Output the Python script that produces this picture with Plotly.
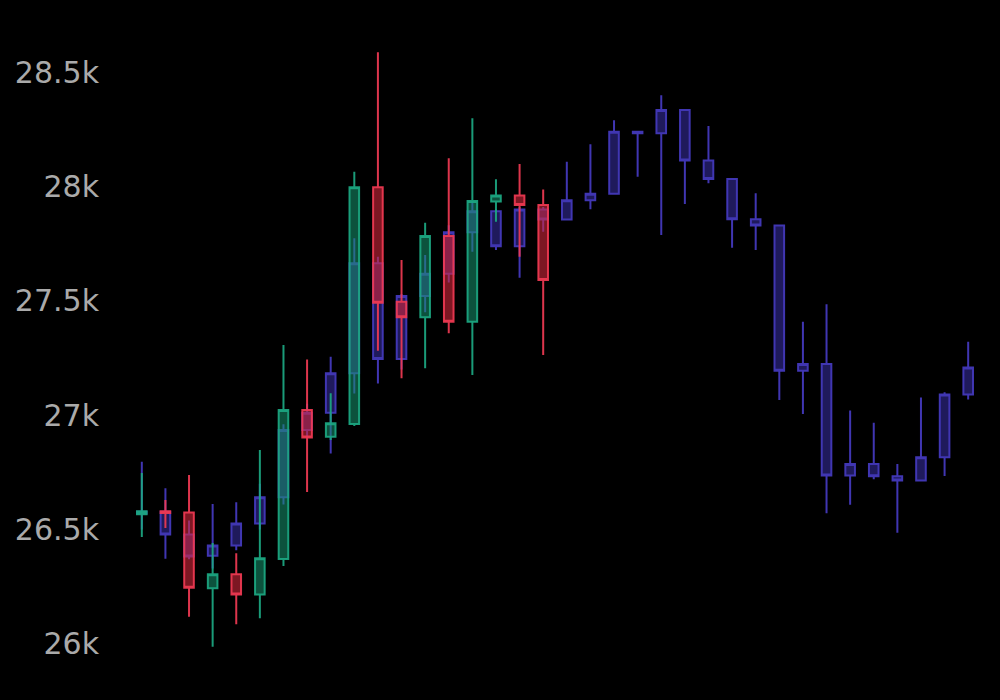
import plotly.graph_objects as go

# x positions (trading sessions)
idx_a = list(range(36))
idx_b = list(range(18))

# Series A (blue/purple, long)
a_open = [26570, 26578, 26478, 26386, 26430, 26527, 26641, 26935, 27011, 27183,
          27664, 27246, 27521, 27618, 27800, 27892, 27739, 27899, 27856, 27940,
          27968, 28239, 28232, 28334, 28113, 28033, 27857, 27829, 27194, 27224,
          26736, 26787, 26733, 26714, 26816, 27090]
a_high = [26797, 26681, 26540, 26612, 26619, 26700, 26960, 27050, 27256, 27773,
          27693, 27530, 27700, 27830, 27936, 27900, 27910, 27910, 28108, 28184,
          28289, 28242, 28399, 28334, 28264, 28035, 27970, 27831, 27409, 27485,
          27020, 26967, 26787, 27077, 27100, 27321]
a_low = [26500, 26373, 26370, 26330, 26410, 26500, 26610, 26900, 26833, 27095,
         27139, 27200, 27450, 27580, 27715, 27722, 27601, 27802, 27856, 27900,
         27967, 28042, 27788, 27923, 28014, 27732, 27722, 27066, 27005, 26571,
         26608, 26720, 26486, 26714, 26734, 27069]
a_close = [26578, 26478, 26382, 26430, 26527, 26641, 26935, 27011, 27183, 27664,
           27246, 27521, 27618, 27800, 27892, 27739, 27899, 27856, 27940, 27968,
           28239, 28232, 28334, 28113, 28033, 27857, 27829, 27194, 27224, 26736,
           26787, 26733, 26714, 26816, 27090, 27209]

# Series B (green/red, short)
b_open = [26567, 26580, 26575, 26243, 26305, 26216, 26371, 27023, 26906, 26961,
          27996, 27496, 27428, 27783, 27409, 27934, 27960, 27919]
b_high = [26747, 26629, 26739, 26441, 26396, 26848, 27307, 27244, 27096, 28064,
          28587, 27678, 27841, 28123, 28298, 28031, 28098, 27987]
b_low = [26468, 26507, 26119, 25988, 26086, 26112, 26341, 26664, 26892, 26953,
         27282, 27161, 27205, 27358, 27176, 27846, 27693, 27263]
b_close = [26580, 26572, 26246, 26305, 26216, 26375, 27023, 26903, 26965, 27996,
           27492, 27428, 27783, 27409, 27936, 27960, 27919, 27591]

y_ticks = [26000, 26500, 27000, 27500, 28000, 28500]
y_tick_text = ["26k", "26.5k", "27k", "27.5k", "28k", "28.5k"]

blue_line = "rgb(64,54,178)"
blue_fill = "rgb(31,26,92)"

fig = go.Figure()
fig.add_trace(go.Candlestick(
    x=idx_a, open=a_open, high=a_high, low=a_low, close=a_close,
    increasing=dict(line=dict(color=blue_line, width=2), fillcolor=blue_fill),
    decreasing=dict(line=dict(color=blue_line, width=2), fillcolor=blue_fill),
    showlegend=False,
))
fig.add_trace(go.Candlestick(
    x=idx_b, open=b_open, high=b_high, low=b_low, close=b_close,
    increasing=dict(line=dict(color="rgba(28,168,130,0.92)", width=2),
                    fillcolor="rgba(22,150,112,0.55)"),
    decreasing=dict(line=dict(color="rgba(240,58,82,0.92)", width=2),
                    fillcolor="rgba(215,40,60,0.58)"),
    showlegend=False,
))

fig.update_layout(
    width=1000, height=700,
    paper_bgcolor="black", plot_bgcolor="black",
    margin=dict(l=130, r=20, t=0, b=0),
    showlegend=False,
    boxgap=0.42,
    font=dict(family="DejaVu Sans", color="#aaaaaa", size=30),
    xaxis=dict(visible=False, range=[-0.5, 35.5], rangeslider=dict(visible=False)),
    yaxis=dict(range=[25755, 28815], tickvals=y_ticks, ticktext=y_tick_text,
               showgrid=False, zeroline=False, showline=False,
               ticklabelstandoff=30,
               tickfont=dict(family="DejaVu Sans", size=30, color="#aaaaaa")),
)

fig.write_html(
    "out.html",
    config={"displayModeBar": False},
    post_script="document.body.style.margin='0';document.body.style.background='black';",
)
